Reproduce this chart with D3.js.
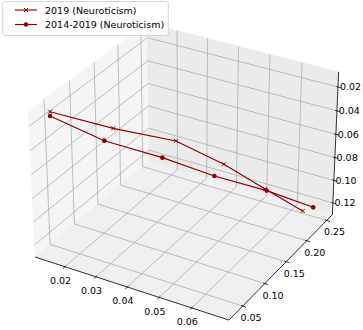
<!DOCTYPE html>
<html><head><meta charset="utf-8">
<script src="https://cdn.jsdelivr.net/npm/d3@7"></script>
<style>body{margin:0;background:#fff} svg{display:block} text{font-family:"DejaVu Sans",sans-serif}</style>
</head><body><svg id="c" width="363" height="330"></svg>
<script>
// ---- data ----
const seriesNames = ["2019 (Neuroticism)", "2014-2019 (Neuroticism)"];
const x2019 = [0.0113, 0.0263, 0.0386, 0.0483, 0.0569, 0.0701];
const y2019 = [0.0534, 0.0847, 0.1340, 0.1728, 0.2069, 0.1965];
const z2019 = [0.0179, 0.0305, 0.0477, 0.0729, 0.0992, 0.1040];
const x1419 = [0.0162, 0.0245, 0.0359, 0.0464, 0.0572, 0.0657];
const y1419 = [0.0247, 0.0775, 0.1230, 0.1650, 0.2083, 0.2597];
const z1419 = [0.0088, 0.0397, 0.0602, 0.0818, 0.1008, 0.1267];
const xTicks = [0.02, 0.03, 0.04, 0.05, 0.06];
const yTicks = [0.05, 0.10, 0.15, 0.20, 0.25];
const zTicks = [0.02, 0.04, 0.06, 0.08, 0.10, 0.12];
const xTickLabels = ["0.02", "0.03", "0.04", "0.05", "0.06"];
const yTickLabels = ["0.05", "0.10", "0.15", "0.20", "0.25"];
const zTickLabels = ["0.02", "0.04", "0.06", "0.08", "0.10", "0.12"];

// ---- 3D box limits (z axis inverted) ----
const xLo=0.01012, xHi=0.07127, yLo=0.01983, yHi=0.26456, zB=0.13043, zT=0.00746;
const X0=186.3, Y0=164.76, K=1945.3;
const elev=30*Math.PI/180, azim=-60*Math.PI/180, dist=10;
const A=[8/7,8/7,6/7];
const R=A.map(a=>a/2);
const ps=[Math.cos(elev)*Math.cos(azim), Math.cos(elev)*Math.sin(azim), Math.sin(elev)];
const E=R.map((r,i)=>r+dist*ps[i]);
function cross(a,b){return [a[1]*b[2]-a[2]*b[1], a[2]*b[0]-a[0]*b[2], a[0]*b[1]-a[1]*b[0]];}
function nrm(a){const l=Math.hypot(...a);return a.map(x=>x/l);}
function dot(a,b){return a[0]*b[0]+a[1]*b[1]+a[2]*b[2];}
const n=nrm(ps), u=nrm(cross([0,0,1],n)), v=cross(n,u);
const xW=d3.scaleLinear().domain([xLo,xHi]).range([0,A[0]]);
const yW=d3.scaleLinear().domain([yLo,yHi]).range([0,A[1]]);
const zW=d3.scaleLinear().domain([zB,zT]).range([0,A[2]]);
const sx=d3.scaleLinear().domain([-0.095,0.09]).range([X0-0.095*K, X0+0.09*K]);
const sy=d3.scaleLinear().domain([-0.095,0.09]).range([Y0+0.095*K, Y0-0.09*K]);
function P(x,y,z){const w=[xW(x),yW(y),zW(z)]; const d=[w[0]-E[0],w[1]-E[1],w[2]-E[2]]; const zv=dot(n,d); return [sx(dot(u,d)/-zv), sy(dot(v,d)/-zv)];}

const svg=d3.select("#c");
const line=d3.line();
const path3=pts=>line(pts.map(p=>P(...p)));

// panes
const px=[[xLo,yLo,zB],[xLo,yHi,zB],[xLo,yHi,zT],[xLo,yLo,zT]];
const py=[[xLo,yHi,zB],[xHi,yHi,zB],[xHi,yHi,zT],[xLo,yHi,zT]];
const pz=[[xLo,yLo,zB],[xHi,yLo,zB],[xHi,yHi,zB],[xLo,yHi,zB]];
const gp=svg.append("g");
[[px,"#f5f5f5"],[py,"#ebebeb"],[pz,"#f0f0f0"]].forEach(([c,col])=>gp.append("path").attr("d",path3(c)+"Z").attr("fill",col).attr("stroke",col).attr("stroke-width",0.8));

// grid
const gg=svg.append("g").attr("fill","none").attr("stroke","#b0b0b0").attr("stroke-width",0.8);
xTicks.forEach(t=>gg.append("path").attr("d",path3([[t,yLo,zB],[t,yHi,zB],[t,yHi,zT]])));
yTicks.forEach(t=>gg.append("path").attr("d",path3([[xLo,t,zT],[xLo,t,zB],[xHi,t,zB]])));
zTicks.forEach(t=>gg.append("path").attr("d",path3([[xHi,yHi,t],[xLo,yHi,t],[xLo,yLo,t]])));

// axis lines
const ga=svg.append("g").attr("fill","none").attr("stroke","#000").attr("stroke-width",0.8);
ga.append("path").attr("d",path3([[xLo,yLo,zB],[xHi,yLo,zB]]));
ga.append("path").attr("d",path3([[xHi,yLo,zB],[xHi,yHi,zB]]));
ga.append("path").attr("d",path3([[xHi,yHi,zB],[xHi,yHi,zT]]));

// ticks + labels
const rx=xHi-xLo, ry=yHi-yLo, rz=zB-zT, L=0.042;
const gt=svg.append("g").attr("font-size",9.5).attr("text-anchor","middle").attr("dominant-baseline","central").attr("fill","#000");
xTicks.forEach((t,i)=>{ga.append("path").attr("d",path3([[t,yLo-0.2*ry/12,zB],[t,yLo+0.1*ry/12,zB]]));
 const q=P(t,yLo-L*ry,zB+L*rz); gt.append("text").attr("x",q[0]+0.5).attr("y",q[1]+3).text(xTickLabels[i]);});
yTicks.forEach((t,i)=>{ga.append("path").attr("d",path3([[xHi+0.2*rx/12,t,zB],[xHi-0.1*rx/12,t,zB]]));
 const q=P(xHi+L*rx,t,zB+L*rz); gt.append("text").attr("x",q[0]).attr("y",q[1]+3).text(yTickLabels[i]);});
zTicks.forEach((t,i)=>{ga.append("path").attr("d",path3([[xHi+0.2*rx/12,yHi,t],[xHi-0.1*rx/12,yHi,t]]));
 const q=P(xHi+L*rx,yHi+L*ry,t); gt.append("text").attr("x",q[0]).attr("y",q[1]+1.5).text(zTickLabels[i]);});

// series
const col="#8b0000";
function marker(g,q,mk){
 if(mk==="o") g.append("circle").attr("cx",q[0]).attr("cy",q[1]).attr("r",2.3).attr("fill",col);
 else g.append("path").attr("d",`M${q[0]-2},${q[1]-2}L${q[0]+2},${q[1]+2}M${q[0]-2},${q[1]+2}L${q[0]+2},${q[1]-2}`).attr("stroke",col).attr("stroke-width",1);
}
function series(xs,ys,zs,mk){
 const s=xs.map((x,i)=>P(x,ys[i],zs[i]));
 const g=svg.append("g");
 g.append("path").attr("d",line(s)).attr("fill","none").attr("stroke",col).attr("stroke-width",1.1);
 s.forEach(q=>marker(g,q,mk));
}
series(x2019,y2019,z2019,"x");
series(x1419,y1419,z1419,"o");

// legend
const lg=svg.append("g");
lg.append("rect").attr("x",2.7).attr("y",1.5).attr("width",165.6).attr("height",34).attr("rx",2).attr("ry",2)
  .attr("fill","#fff").attr("fill-opacity",0.8).attr("stroke","#cccccc").attr("stroke-width",0.8);
[["x",10],["o",24.5]].forEach(([mk,yy],i)=>{
 lg.append("line").attr("x1",15).attr("x2",37).attr("y1",yy).attr("y2",yy).attr("stroke",col).attr("stroke-width",1.1);
 marker(lg,[26,yy],mk);
 lg.append("text").attr("x",45).attr("y",yy).attr("dominant-baseline","central").attr("font-size",9.5).attr("fill","#000").text(seriesNames[i]);
});
</script></body></html>
